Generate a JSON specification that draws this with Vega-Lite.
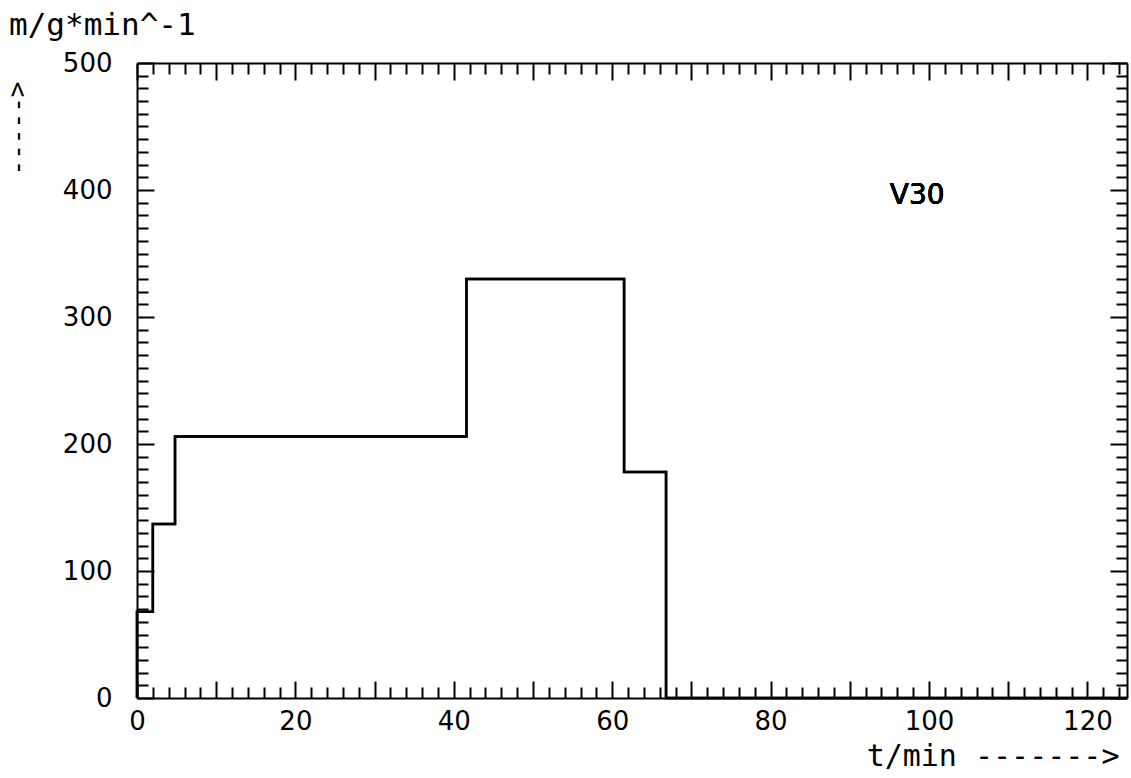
{
  "$schema": "https://vega.github.io/schema/vega-lite/v6.json",
  "width": 990,
  "height": 635,
  "autosize": {"type": "none"},
  "padding": {"left": 137, "top": 63, "right": 4, "bottom": 80},
  "background": "white",
  "config": {
    "view": {"stroke": null},
    "axis": {
      "domainColor": "black",
      "domainWidth": 2,
      "tickColor": "black",
      "tickWidth": 2,
      "grid": false,
      "labelFont": "DejaVu Sans",
      "labelFontSize": 26,
      "labelColor": "black",
      "titleColor": "black"
    }
  },
  "title": {
    "text": "m/g*min^-1",
    "anchor": "start",
    "frame": "group",
    "font": "DejaVu Sans Mono",
    "fontSize": 31,
    "fontWeight": "normal",
    "color": "black",
    "baseline": "alphabetic",
    "dx": -128,
    "offset": 0,
    "dy": 16
  },
  "data": {
    "values": [
      {"t": 0, "v": 0},
      {"t": 0, "v": 68},
      {"t": 2.0, "v": 137},
      {"t": 4.8, "v": 206},
      {"t": 41.6, "v": 330},
      {"t": 61.5, "v": 178},
      {"t": 66.8, "v": 0},
      {"t": 125, "v": 0}
    ]
  },
  "layer": [
    {
      "mark": {"type": "line", "interpolate": "step-after", "color": "black", "strokeWidth": 2.5},
      "encoding": {
        "x": {
          "field": "t",
          "type": "quantitative",
          "scale": {"domain": [0, 125], "nice": false, "zero": false},
          "axis": {
            "orient": "bottom",
            "values": [0,2,4,6,8,10,12,14,16,18,20,22,24,26,28,30,32,34,36,38,40,42,44,46,48,50,52,54,56,58,60,62,64,66,68,70,72,74,76,78,80,82,84,86,88,90,92,94,96,98,100,102,104,106,108,110,112,114,116,118,120,122,124],
            "labelExpr": "datum.value % 20 === 0 ? datum.label : ''",
            "tickSize": {"condition": {"test": "datum.value % 10 === 0", "value": -17}, "value": -11},
            "labelPadding": 27,
            "labelFlush": false,
            "labelOverlap": false,
            "title": "t/min  ------->",
            "titleFont": "DejaVu Sans Mono",
            "titleFontSize": 30,
            "titleFontWeight": "normal",
            "titleX": 982,
            "titleY": 67,
            "titleAlign": "right",
            "titleBaseline": "alphabetic",
            "titleAngle": 0
          }
        },
        "y": {
          "field": "v",
          "type": "quantitative",
          "scale": {"domain": [0, 500], "nice": false},
          "axis": {
            "orient": "left",
            "values": [0,10,20,30,40,50,60,70,80,90,100,110,120,130,140,150,160,170,180,190,200,210,220,230,240,250,260,270,280,290,300,310,320,330,340,350,360,370,380,390,400,410,420,430,440,450,460,470,480,490,500],
            "labelExpr": "datum.value % 100 === 0 ? datum.label : ''",
            "tickSize": {"condition": {"test": "datum.value % 100 === 0", "value": -17}, "value": -11},
            "labelPadding": 42,
            "labelFlush": false,
            "labelOverlap": false,
            "title": "----->",
            "titleFont": "DejaVu Sans Mono",
            "titleFontSize": 26,
            "titleFontWeight": "normal",
            "titleX": -120,
            "titleY": 65,
            "titleAngle": -90,
            "titleAlign": "center",
            "titleBaseline": "middle"
          }
        }
      }
    },
    {
      "mark": {"type": "line", "interpolate": "step-after", "color": "black", "strokeWidth": 2.5},
      "encoding": {
        "x": {
          "field": "t",
          "type": "quantitative",
          "axis": {
            "orient": "top",
            "values": [0,2,4,6,8,10,12,14,16,18,20,22,24,26,28,30,32,34,36,38,40,42,44,46,48,50,52,54,56,58,60,62,64,66,68,70,72,74,76,78,80,82,84,86,88,90,92,94,96,98,100,102,104,106,108,110,112,114,116,118,120,122,124],
            "labels": false,
            "title": null,
            "tickSize": {"condition": {"test": "datum.value % 10 === 0", "value": -17}, "value": -11}
          }
        },
        "y": {
          "field": "v",
          "type": "quantitative",
          "axis": {
            "orient": "right",
            "values": [0,10,20,30,40,50,60,70,80,90,100,110,120,130,140,150,160,170,180,190,200,210,220,230,240,250,260,270,280,290,300,310,320,330,340,350,360,370,380,390,400,410,420,430,440,450,460,470,480,490,500],
            "labels": false,
            "title": null,
            "tickSize": {"condition": {"test": "datum.value % 100 === 0", "value": -17}, "value": -11}
          }
        }
      }
    },
    {
      "mark": {"type": "text", "font": "DejaVu Sans", "fontSize": 28, "color": "black", "align": "center", "baseline": "middle"},
      "encoding": {
        "x": {"datum": 98.5, "type": "quantitative", "axis": null},
        "y": {"datum": 395, "type": "quantitative", "axis": null},
        "text": {"value": "V30"}
      }
    }
  ],
  "resolve": {"axis": {"x": "independent", "y": "independent"}}
}
